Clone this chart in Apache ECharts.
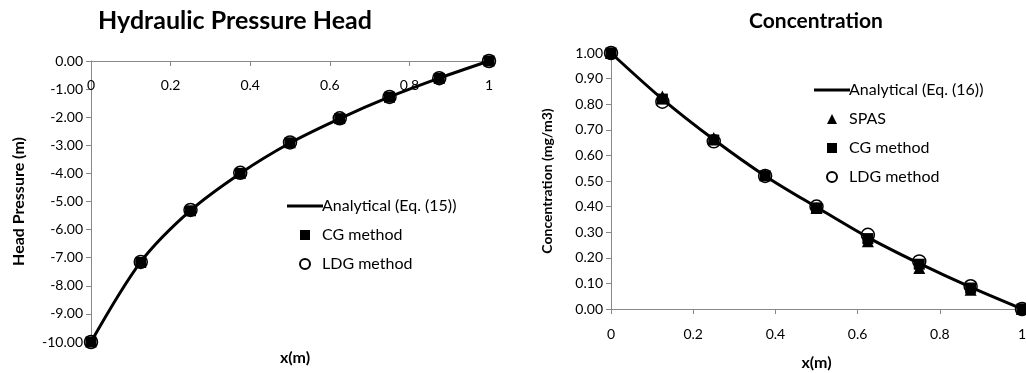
<!DOCTYPE html>
<html><head><meta charset="utf-8">
<script src="https://cdn.jsdelivr.net/npm/echarts@6/dist/echarts.min.js"></script>
<style>html,body{margin:0;padding:0;background:#fff}#c{width:1026px;height:373px}</style>
</head><body><div id="c"></div>
<script>
// ---- data ----
const xs = [0, 0.125, 0.25, 0.375, 0.5, 0.625, 0.75, 0.875, 1];
const xTicks = ['0', '0.2', '0.4', '0.6', '0.8', '1'];
// Hydraulic pressure head (m)
const headAnalytical = [-10, -7.15, -5.32, -4.0, -2.92, -2.05, -1.28, -0.61, 0];
const headCG = [-10, -7.17, -5.33, -4.0, -2.91, -2.05, -1.29, -0.62, 0];
const headLDG = [-10, -7.15, -5.3, -3.98, -2.9, -2.04, -1.28, -0.61, 0];
// Concentration (mg/m3)
const concAnalytical = [1.0, 0.82, 0.662, 0.52, 0.398, 0.28, 0.178, 0.085, 0];
const concSPAS = [1.0, 0.83, 0.668, 0.525, 0.395, 0.265, 0.16, 0.075, 0];
const concCG = [1.0, 0.82, 0.66, 0.52, 0.395, 0.275, 0.175, 0.082, 0];
const concLDG = [1.0, 0.81, 0.655, 0.52, 0.40, 0.29, 0.186, 0.089, 0];

const pairs = (a) => xs.map((x, i) => [x, a[i]]);
const FONT = 'Lato';
const black = '#000';
const SQUARE = 'path://M0,0 L10,0 L10,10 L0,10 Z';
const TRI = 'path://M5,0 L10,10 L0,10 Z';
const LINE = 'path://M0,0 L36,0 L36,3 L0,3 Z';

const tickFmt = (v) => xTicks[Math.round(v / 0.2)];

const chart = echarts.init(document.getElementById('c'));
chart.setOption({
  animation: false,
  backgroundColor: '#fff',
  title: [
    { text: 'Hydraulic Pressure Head', left: 230, top: 3, textAlign: 'center',
      textStyle: { fontFamily: FONT, fontSize: 25, fontWeight: 'bold', color: '#000' } },
    { text: 'Concentration', left: 811, top: 6, textAlign: 'center',
      textStyle: { fontFamily: FONT, fontSize: 21, fontWeight: 'bold', color: '#000' } },
    { text: 'x(m)', left: 290, top: 345, textAlign: 'center',
      textStyle: { fontFamily: FONT, fontSize: 16, fontWeight: 'bold', color: '#000' } }
  ],
  legend: [
    { orient: 'vertical', left: 282, top: 193, itemWidth: 36, itemHeight: 10, itemGap: 13,
      symbolKeepAspect: true,
      textStyle: { fontFamily: FONT, fontSize: 16, color: '#000', padding: [0, 0, 0, -6] },
      data: [
        { name: 'Analytical (Eq. (15))', icon: LINE },
        { name: 'CG method', icon: SQUARE },
        { name: 'LDG method', icon: 'circle' }
      ] },
    { orient: 'vertical', left: 809, top: 77, itemWidth: 36, itemHeight: 10, itemGap: 13,
      symbolKeepAspect: true,
      textStyle: { fontFamily: FONT, fontSize: 16, color: '#000', padding: [0, 0, 0, -6] },
      data: [
        { name: 'Analytical (Eq. (16))', icon: LINE },
        { name: 'SPAS', icon: TRI },
        { name: 'CG method ', icon: SQUARE },
        { name: 'LDG method ', icon: 'circle' }
      ] }
  ],
  grid: [
    { left: 91, top: 61, width: 398, height: 281, outerBoundsMode: 'none', containLabel: false },
    { left: 611, top: 53, width: 411, height: 256, outerBoundsMode: 'none', containLabel: false }
  ],
  xAxis: [
    { type: 'value', gridIndex: 0, min: 0, max: 1, interval: 0.2, position: 'top',
      axisLine: { onZero: false, lineStyle: { color: '#888', width: 1 } },
      axisTick: { show: true, inside: true, length: 5, lineStyle: { color: '#888' } },
      splitLine: { show: false },
      axisLabel: { inside: true, color: '#000', fontFamily: FONT, fontSize: 14, margin: 17,
        formatter: tickFmt } },
    { type: 'value', gridIndex: 1, min: 0, max: 1, interval: 0.2,
      axisLine: { onZero: false, lineStyle: { color: '#888', width: 1 } },
      axisTick: { show: true, length: 5, lineStyle: { color: '#888' } },
      splitLine: { show: false },
      axisLabel: { color: '#000', fontFamily: FONT, fontSize: 14, margin: 18,
        formatter: tickFmt },
      name: 'x(m)', nameLocation: 'middle', nameGap: 46,
      nameTextStyle: { fontFamily: FONT, fontSize: 16, fontWeight: 'bold', color: '#000' } }
  ],
  yAxis: [
    { type: 'value', gridIndex: 0, min: -10, max: 0, interval: 1,
      name: 'Head Pressure (m)', nameLocation: 'middle', nameRotate: 90, nameGap: 64,
      nameTextStyle: { fontFamily: FONT, fontSize: 16, fontWeight: 'bold', color: '#000' },
      axisLine: { show: true, lineStyle: { color: '#888' } },
      axisTick: { show: true, length: 5, lineStyle: { color: '#888' } },
      splitLine: { show: false },
      axisLabel: { color: '#000', fontFamily: FONT, fontSize: 14, margin: 8,
        formatter: (v) => v.toFixed(2) } },
    { type: 'value', gridIndex: 1, min: 0, max: 1, interval: 0.1,
      name: 'Concentration (mg/m3)', nameLocation: 'middle', nameRotate: 90, nameGap: 57,
      nameTextStyle: { fontFamily: FONT, fontSize: 14, fontWeight: 'bold', color: '#000' },
      axisLine: { show: true, lineStyle: { color: '#888' } },
      axisTick: { show: true, length: 5, lineStyle: { color: '#888' } },
      splitLine: { show: false },
      axisLabel: { color: '#000', fontFamily: FONT, fontSize: 14, margin: 8,
        formatter: (v) => v.toFixed(2) } }
  ],
  series: [
    { name: 'Analytical (Eq. (15))', type: 'line', xAxisIndex: 0, yAxisIndex: 0,
      data: pairs(headAnalytical), smooth: 0.3, symbol: 'none',
      lineStyle: { color: black, width: 3 }, itemStyle: { color: black }, z: 2 },
    { name: 'CG method', type: 'scatter', xAxisIndex: 0, yAxisIndex: 0,
      data: pairs(headCG), symbol: 'rect', symbolSize: 11,
      itemStyle: { color: black, opacity: 1 }, z: 3 },
    { name: 'LDG method', type: 'scatter', xAxisIndex: 0, yAxisIndex: 0,
      data: pairs(headLDG), symbol: 'circle', symbolSize: 13,
      itemStyle: { color: 'rgba(0,0,0,0)', borderColor: black, borderWidth: 1.5, opacity: 1 }, z: 4 },

    { name: 'Analytical (Eq. (16))', type: 'line', xAxisIndex: 1, yAxisIndex: 1,
      data: pairs(concAnalytical), smooth: 0.3, symbol: 'none',
      lineStyle: { color: black, width: 3 }, itemStyle: { color: black }, z: 2 },
    { name: 'SPAS', type: 'scatter', xAxisIndex: 1, yAxisIndex: 1,
      data: pairs(concSPAS), symbol: 'triangle', symbolSize: 12,
      itemStyle: { color: black, opacity: 1 }, z: 3 },
    { name: 'CG method ', type: 'scatter', xAxisIndex: 1, yAxisIndex: 1,
      data: pairs(concCG), symbol: 'rect', symbolSize: 11,
      itemStyle: { color: black, opacity: 1 }, z: 3 },
    { name: 'LDG method ', type: 'scatter', xAxisIndex: 1, yAxisIndex: 1,
      data: pairs(concLDG), symbol: 'circle', symbolSize: 13,
      itemStyle: { color: 'rgba(0,0,0,0)', borderColor: black, borderWidth: 1.5, opacity: 1 }, z: 4 }
  ]
});
</script>
</body></html>
